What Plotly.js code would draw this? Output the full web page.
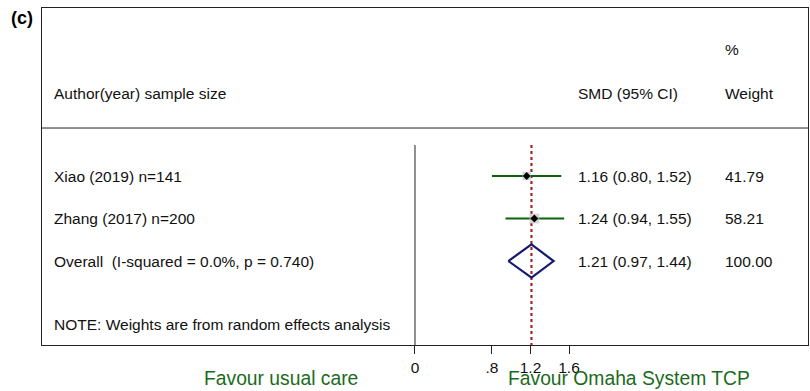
<!DOCTYPE html>
<html>
<head>
<meta charset="utf-8">
<script src="https://cdn.plot.ly/plotly-3.0.1.min.js"></script>
<style>html,body{margin:0;padding:0;background:#fff;}#chart{width:810px;height:391px;}</style>
</head>
<body>
<div id="chart"></div>
<script>
// ---- data ----
var studies = ['Xiao (2019) n=141', 'Zhang (2017) n=200'];
var smd = [1.16, 1.24];
var lower = [0.80, 0.94];
var upper = [1.52, 1.55];
var weights = [41.79, 58.21];
var overallLabel = 'Overall  (I-squared = 0.0%, p = 0.740)';
var overallEst = 1.21;
var overallLower = 0.97;
var overallUpper = 1.44;
var overallWeight = 100.00;
var tickVals = [0, 0.8, 1.2, 1.6];
var tickText = ['0', '.8', '1.2', '1.6'];

// ---- layout helpers (rows) ----
var rows = [1, 2];
var overallRow = 3;
var FONT = 'Liberation Sans, Arial, Helvetica, sans-serif';
var GREEN = '#1b6b1b';
var FS = 15.5;

var ciX = [], ciY = [];
for (var i = 0; i < smd.length; i++) {
  ciX.push(lower[i], upper[i], null);
  ciY.push(rows[i], rows[i], null);
}

var traces = [
  { // overall estimate dotted line
    x: [overallEst, overallEst], y: [0.27, 4.976], mode: 'lines',
    line: {color: '#a3262a', width: 2.2, dash: 'dot'}, hoverinfo: 'skip', cliponaxis: false
  },
  { // CIs
    x: ciX, y: ciY, mode: 'lines', line: {color: '#0b640b', width: 2}, hoverinfo: 'skip'
  },
  { // weight boxes
    x: smd, y: rows, mode: 'markers',
    marker: {symbol: 'square', color: '#c6c6c6', size: weights.map(function(w){return Math.sqrt(w) * 1.3;}), line: {width: 0}},
    hoverinfo: 'skip'
  },
  { // point estimates
    x: smd, y: rows, mode: 'markers',
    marker: {symbol: 'diamond', color: '#000', size: 6}, hoverinfo: 'skip'
  },
  { // overall diamond
    x: [overallLower, overallEst, overallUpper, overallEst, overallLower],
    y: [overallRow, overallRow - 0.39, overallRow, overallRow + 0.39, overallRow],
    mode: 'lines', line: {color: '#141a70', width: 2.2}, hoverinfo: 'skip'
  }
];

var ann = [];
function txt(x, y, t, opts) {
  var a = {xref: 'paper', yref: 'y', x: x, y: y, text: t, showarrow: false,
    xanchor: 'left', yanchor: 'middle', font: {family: FONT, size: FS, color: '#111'}};
  for (var k in (opts || {})) a[k] = opts[k];
  ann.push(a);
}
var colLabel = 0.0131, colCI = 0.697, colW = 0.889;
txt(colW, -1.965, '%');
txt(colLabel, -0.953, 'Author(year) sample size');
txt(colCI, -0.953, 'SMD (95% CI)');
txt(colW, -0.953, 'Weight');
for (var j = 0; j < studies.length; j++) {
  txt(colLabel, rows[j], studies[j]);
  txt(colCI, rows[j], smd[j].toFixed(2) + ' (' + lower[j].toFixed(2) + ', ' + upper[j].toFixed(2) + ')');
  txt(colW, rows[j], weights[j].toFixed(2));
}
txt(colLabel, overallRow, overallLabel);
txt(colCI, overallRow, overallEst.toFixed(2) + ' (' + overallLower.toFixed(2) + ', ' + overallUpper.toFixed(2) + ')');
txt(colW, overallRow, overallWeight.toFixed(2));
txt(colLabel, 4.482, 'NOTE: Weights are from random effects analysis');

// panel label and direction labels
ann.push({xref: 'paper', yref: 'paper', x: -0.026, y: 0.97, text: '<b>(c)</b>', showarrow: false,
  xanchor: 'center', yanchor: 'middle', font: {family: FONT, size: 18, color: '#000'}});
ann.push({xref: 'paper', yref: 'paper', x: 0.312, y: -0.098, text: 'Favour usual care', showarrow: false,
  xanchor: 'center', yanchor: 'middle', font: {family: FONT, size: 19.3, color: GREEN}});
ann.push({xref: 'paper', yref: 'paper', x: 0.766, y: -0.098, text: 'Favour Omaha System TCP', showarrow: false,
  xanchor: 'center', yanchor: 'middle', font: {family: FONT, size: 19.3, color: GREEN}});

var layout = {
  width: 810, height: 391,
  margin: {l: 42, r: 2, t: 8, b: 46},
  paper_bgcolor: '#fff', plot_bgcolor: '#fff',
  showlegend: false,
  xaxis: {
    range: [-3.875, 4.083], showgrid: false, zeroline: false,
    showline: true, mirror: true, linecolor: '#222', linewidth: 1,
    ticks: 'outside', ticklen: 8, tickcolor: '#222', tickwidth: 1,
    tickvals: tickVals, ticktext: tickText,
    tickfont: {family: FONT, size: FS, color: '#111'}, fixedrange: true
  },
  yaxis: {
    range: [4.976, -2.953], showgrid: false, zeroline: false,
    showline: true, mirror: true, linecolor: '#222', linewidth: 1,
    showticklabels: false, ticks: '', fixedrange: true
  },
  shapes: [
    {type: 'line', xref: 'paper', yref: 'y', x0: 0, x1: 1, y0: -0.129, y1: -0.129, line: {color: '#222', width: 1}},
    {type: 'line', xref: 'x', yref: 'y', x0: 0, x1: 0, y0: 0.27, y1: 4.976, line: {color: '#222', width: 1}}
  ],
  annotations: ann
};

Plotly.newPlot('chart', traces, layout, {staticPlot: true, displayModeBar: false});
</script>
</body>
</html>
